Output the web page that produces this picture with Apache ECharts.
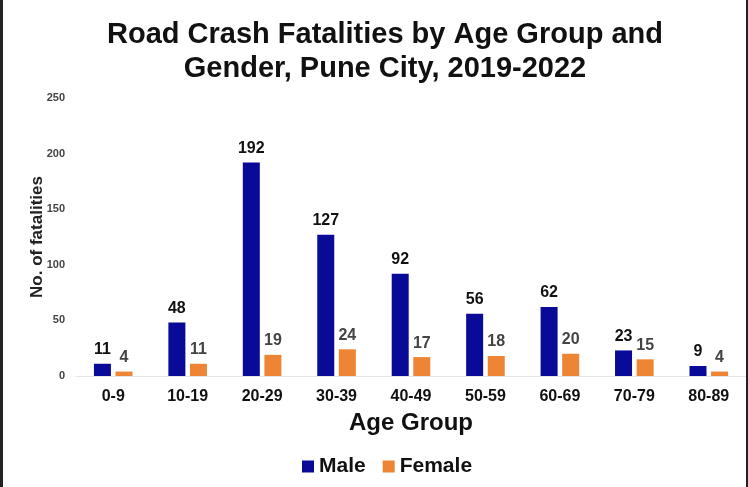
<!DOCTYPE html>
<html><head><meta charset="utf-8">
<script src="https://cdn.jsdelivr.net/npm/echarts@6/dist/echarts.min.js"></script>
<style>html,body{margin:0;padding:0;background:#fff}#c{width:748px;height:487px;box-sizing:border-box;border-left:3px solid #222;border-right:2px solid #222}</style>
</head><body><div id="c"></div>
<script>
const categories = ['0-9','10-19','20-29','30-39','40-49','50-59','60-69','70-79','80-89'];
const male = [11,48,192,127,92,56,62,23,9];
const female = [4,11,19,24,17,18,20,15,4];
const yTicks = [0,50,100,150,200,250];
const ff = 'Liberation Sans, Arial, sans-serif';
const chart = echarts.init(document.getElementById('c'));
chart.setOption({
  animation:false,
  title:{text:'Road Crash Fatalities by Age Group and\nGender, Pune City, 2019-2022',left:377,top:13,textAlign:'center',
    textStyle:{fontFamily:ff,fontSize:29,fontWeight:'bold',color:'#111',lineHeight:34}},
  legend:{bottom:5,left:294,itemWidth:12,itemHeight:12,itemGap:17,icon:'rect',
    textStyle:{fontFamily:ff,fontSize:21,fontWeight:'bold',color:'#111'}},
  grid:{left:73,right:-3,top:98,bottom:111,containLabel:false},
  xAxis:{type:'category',data:categories,name:'Age Group',nameLocation:'middle',nameGap:35,
    nameTextStyle:{fontFamily:ff,fontSize:24,fontWeight:'bold',color:'#111'},
    axisLine:{lineStyle:{color:'#e6e6e6'}},axisTick:{show:false},
    axisLabel:{fontFamily:ff,fontSize:16,fontWeight:'bold',color:'#111',margin:13}},
  yAxis:{type:'value',min:0,max:250,interval:50,name:'No. of fatalities',nameLocation:'middle',nameGap:30,nameMoveOverlap:false,
    nameTextStyle:{fontFamily:ff,fontSize:17,fontWeight:'bold',color:'#222'},
    splitLine:{show:false},axisLine:{show:false},axisTick:{show:false},
    axisLabel:{fontFamily:ff,fontSize:11,fontWeight:'bold',color:'#444',margin:11,
      formatter:v=>yTicks.includes(v)?String(v):''}},
  series:[
    {name:'Male',type:'bar',data:male,barWidth:17,barGap:'27%',itemStyle:{color:'#0a0a99'},
      label:{show:true,position:'top',distance:6,fontFamily:ff,fontSize:16,fontWeight:'bold',color:'#111'}},
    {name:'Female',type:'bar',data:female,barWidth:17,itemStyle:{color:'#ee8535'},
      label:{show:true,position:'top',distance:6,fontFamily:ff,fontSize:16,fontWeight:'bold',color:'#444'}}
  ]
});
</script></body></html>
